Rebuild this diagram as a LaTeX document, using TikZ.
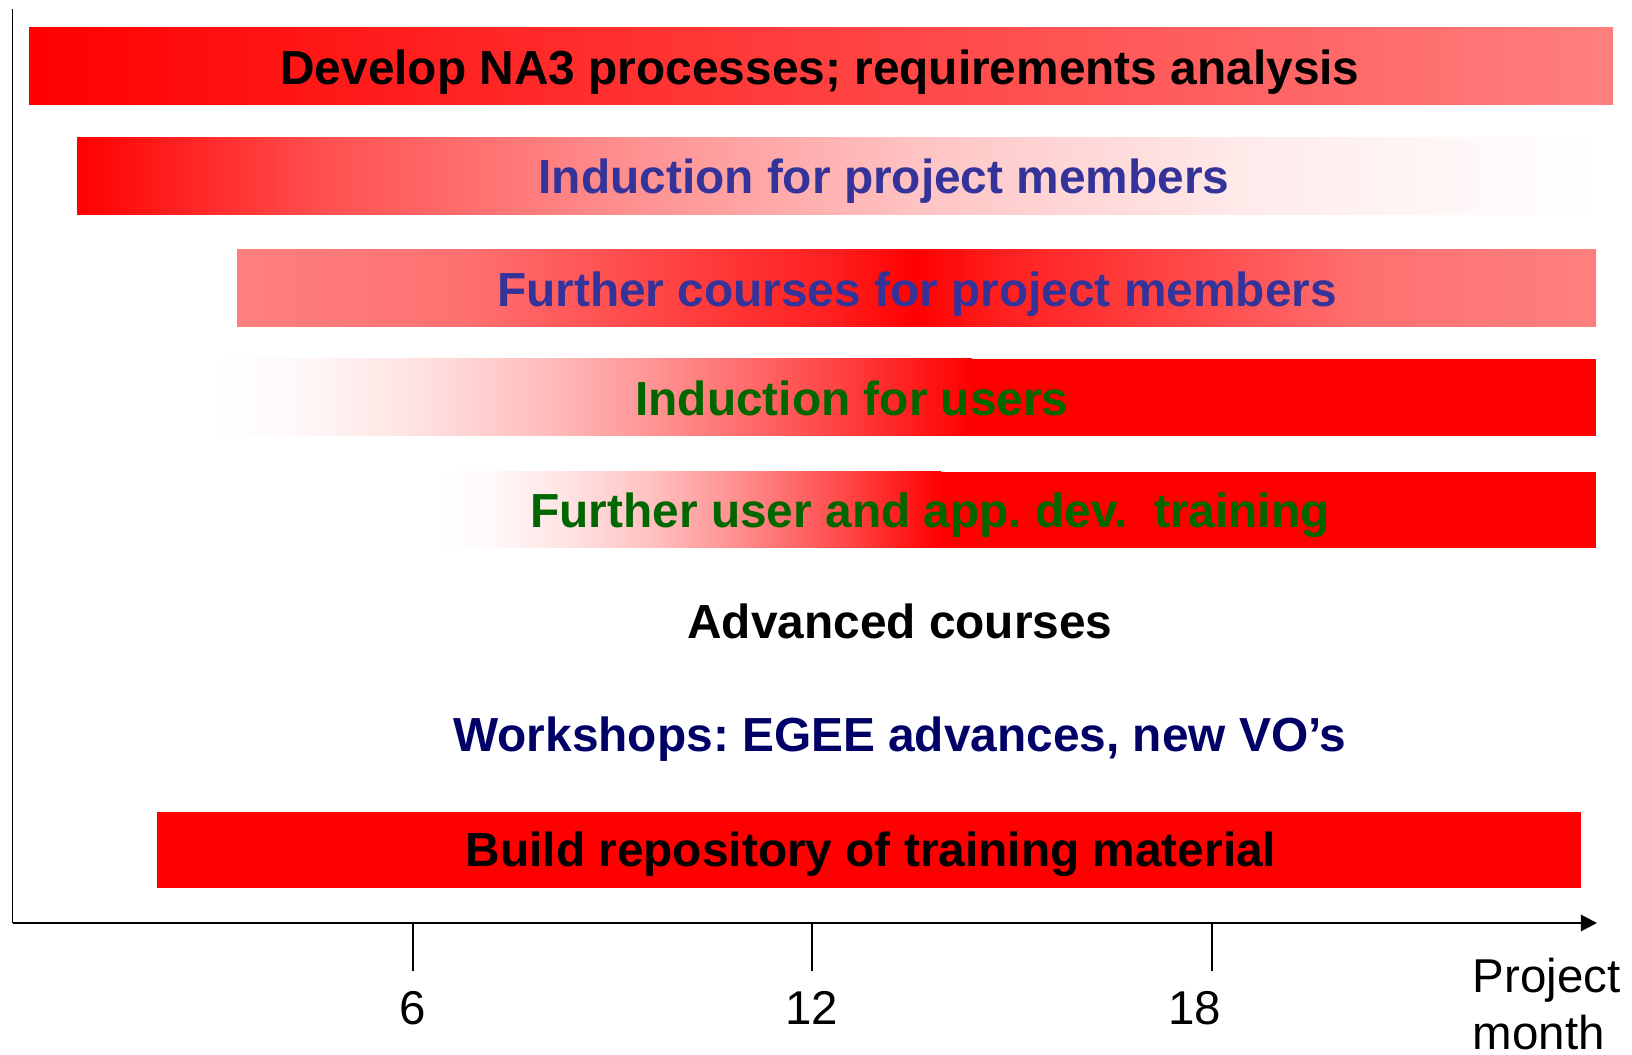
\documentclass[tikz,border=0pt]{standalone}
\usepackage{fontspec}
\setmainfont{Liberation Sans}
\usetikzlibrary{arrows.meta, positioning}
\frenchspacing

\definecolor{projBlue}{HTML}{333399}
\definecolor{userGreen}{HTML}{006600}
\definecolor{wsNavy}{HTML}{000066}

% colour ramps of the bars
\pgfdeclarehorizontalshading{fadeout}{100bp}{color(0bp)=(red); color(25bp)=(red); color(33bp)=(red!69); color(43bp)=(red!44); color(53.5bp)=(red!22); color(63.5bp)=(red!8); color(75bp)=(white); color(100bp)=(white)}
\pgfdeclarehorizontalshading{fadein}{100bp}{color(0bp)=(white); color(25bp)=(white); color(31bp)=(red!3); color(38bp)=(red!11); color(47bp)=(red!26); color(55.5bp)=(red!46); color(65.5bp)=(red!72); color(75bp)=(red); color(100bp)=(red)}
\pgfdeclarehorizontalshading{peak}{100bp}{color(0bp)=(red!50); color(25bp)=(red!50); color(33.5bp)=(red!56); color(41bp)=(red!74); color(47bp)=(red!88); color(50bp)=(red); color(53bp)=(red!88); color(59bp)=(red!74); color(66.5bp)=(red!56); color(75bp)=(red!50); color(100bp)=(red!50)}

\tikzstyle{arrow} = [line width=0.8pt, -{Triangle[length=0.16cm, width=0.16cm]}]
\tikzstyle{tick} = [line width=0.5pt]
\tikzstyle{barlabel} = [anchor=base, inner sep=0pt, font=\fontsize{13.6}{16}\selectfont\bfseries]
\tikzstyle{ticklabel} = [anchor=base, inner sep=0pt, font=\fontsize{13.5}{16.2}\selectfont]

\begin{document}
\begin{tikzpicture}[x=0.01cm, y=-0.01cm]
\useasboundingbox (0,0) rectangle (1632,1055);

% Bars
\shade[left color=red, right color=red!50] (29,28) rectangle (1613,105);
\shade[shading=fadeout] (77,138) rectangle (1596,215);
\shade[shading=peak] (237,250) rectangle (1596,327);
\shade[shading=fadein] (213,359) rectangle (972,436);
\fill[red] (971,359) rectangle (1596,436);
\shade[shading=fadein] (437,472) rectangle (941,548);
\fill[red] (940,472) rectangle (1596,548);
\fill[red] (157,812) rectangle (1581,888);

% Bar labels
\node (develop) [barlabel] at (820,85) {Develop NA3 processes; requirements analysis};
\node (inductProj) [barlabel, text=projBlue] at (884,194) {Induction for project members};
\node (furtherProj) [barlabel, text=projBlue] at (917,307) {Further courses for project members};
\node (inductUser) [barlabel, text=userGreen] at (852,416) {Induction for users};
\node (furtherUser) [barlabel, text=userGreen] at (930,528) {Further user and app. dev.\ \ training};
\node (advanced) [barlabel] at (900,639) {Advanced courses};
\node (workshops) [barlabel, text=wsNavy] at (900,752) {Workshops: EGEE advances, new VO’s};
\node (repository) [barlabel] at (871,867) {Build repository of training material};

% Axes
\coordinate (origin) at (12.5,923);
\coordinate (top) at (12.5,9);
\coordinate (xend) at (1597,923);
\draw [line width=0.5pt] (origin) -- (top);
\draw [arrow] (origin) -- (xend);

% Ticks and month labels
\foreach \x/\m/\lx in {413/6/413, 812/12/812, 1212/18/1195}{
  \draw [tick] (\x,923) -- (\x,971);
  \node (m\m) [ticklabel] at (\lx,1025) {\m};
}
\node (axisname) [ticklabel, anchor=north west, align=left] at (1472,957) {Project\\month};

\end{tikzpicture}
\end{document}
